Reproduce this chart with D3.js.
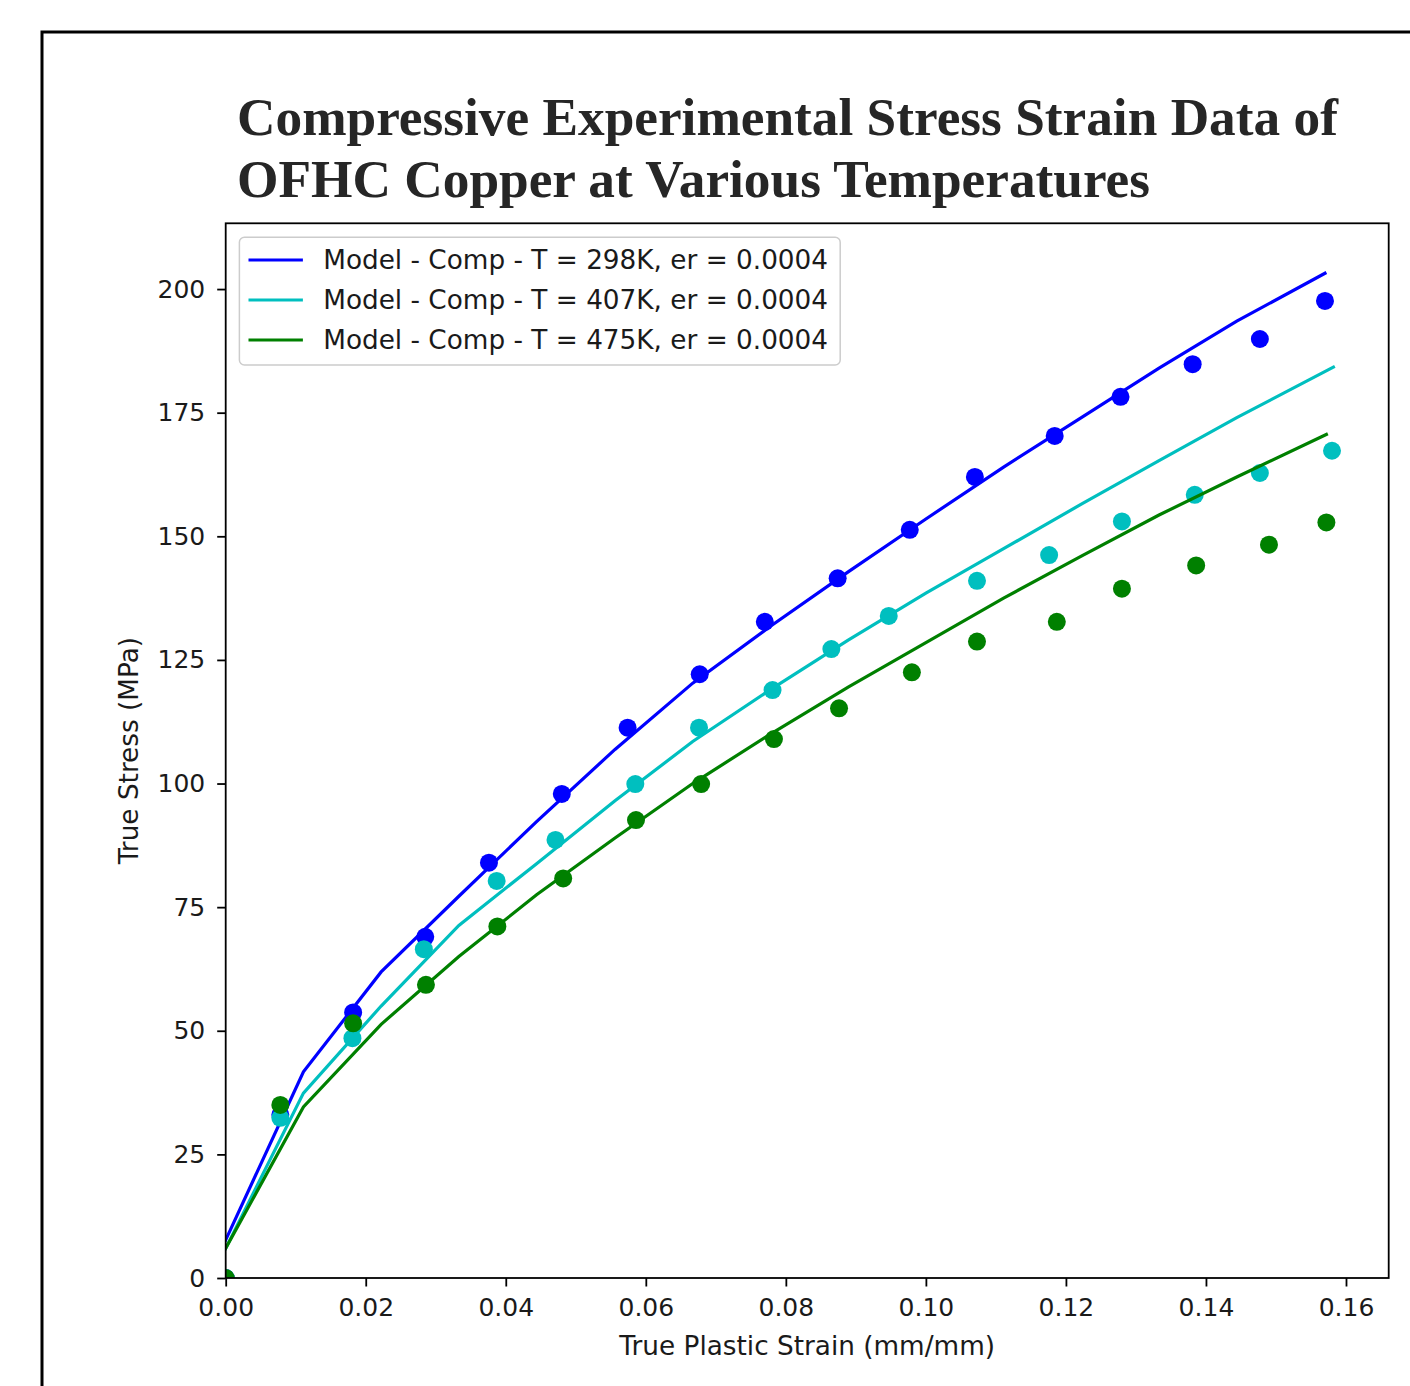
<!DOCTYPE html>
<html>
<head>
<meta charset="utf-8">
<script src="https://cdn.jsdelivr.net/npm/d3@7"></script>
<style>
  body { margin: 0; background: #fff; }
</style>
</head>
<body>
<div id="chart"></div>
<script>
// experimental points (strain, stress)
const strain298 = [0, 0.0078, 0.0182, 0.0285, 0.0376, 0.0480, 0.0574, 0.0677, 0.0770, 0.0874, 0.0977, 0.1070, 0.1184, 0.1278, 0.1381, 0.1477, 0.1570];
const stress298 = [0, 33.0, 53.7, 69.0, 84.0, 97.9, 111.3, 122.1, 132.7, 141.5, 151.3, 162.0, 170.3, 178.2, 184.8, 189.9, 197.6];
const strain407 = [0, 0.0078, 0.0181, 0.0283, 0.0387, 0.0471, 0.0585, 0.0676, 0.0781, 0.0865, 0.0947, 0.1073, 0.1176, 0.1280, 0.1384, 0.1477, 0.1580];
const stress407 = [0, 32.4, 48.5, 66.5, 80.3, 88.6, 99.9, 111.3, 118.9, 127.2, 133.9, 141.0, 146.2, 153.0, 158.4, 162.8, 167.3];
const strain475 = [0, 0.0078, 0.0182, 0.0286, 0.0388, 0.0482, 0.0586, 0.0679, 0.0783, 0.0876, 0.0980, 0.1073, 0.1187, 0.1280, 0.1386, 0.1490, 0.1572];
const stress475 = [0, 35.0, 51.5, 59.3, 71.1, 80.8, 92.6, 99.9, 109.0, 115.2, 122.5, 128.7, 132.7, 139.4, 144.1, 148.3, 152.8];

// model curves
const modelStrain298 = [0, 0.0111, 0.0222, 0.0333, 0.0444, 0.0556, 0.0667, 0.0778, 0.0889, 0.1000, 0.1111, 0.1222, 0.1333, 0.1444, 0.1570];
const modelStress298 = [7.7, 41.7, 61.9, 77.2, 92.3, 106.9, 120.3, 131.8, 142.8, 153.5, 164.0, 174.0, 184.0, 193.5, 203.2];
const modelStrain407 = [0, 0.0111, 0.0222, 0.0333, 0.0444, 0.0556, 0.0667, 0.0778, 0.0889, 0.1000, 0.1111, 0.1222, 0.1333, 0.1444, 0.1582];
const modelStress407 = [6.0, 37.4, 55.0, 71.3, 83.8, 96.5, 108.5, 119.0, 129.0, 138.5, 147.5, 156.5, 165.3, 174.0, 184.2];
const modelStrain475 = [0, 0.0111, 0.0222, 0.0333, 0.0444, 0.0556, 0.0667, 0.0778, 0.0889, 0.1000, 0.1111, 0.1222, 0.1333, 0.1444, 0.1572];
const modelStress475 = [6.0, 34.6, 51.3, 65.0, 77.5, 89.0, 100.0, 110.0, 119.5, 128.5, 137.5, 146.0, 154.3, 162.0, 170.6];

const seriesLabels = ['Model - Comp - T = 298K, er = 0.0004', 'Model - Comp - T = 407K, er = 0.0004', 'Model - Comp - T = 475K, er = 0.0004'];
const seriesColors = ['#0000ff', '#00bfbf', '#008000'];
const xTicks = [0, 0.02, 0.04, 0.06, 0.08, 0.10, 0.12, 0.14, 0.16];
const yTicks = [0, 25, 50, 75, 100, 125, 150, 175, 200];
const titleLines = ['Compressive Experimental Stress Strain Data of', 'OFHC Copper at Various Temperatures'];

const series = [
  { model: [modelStrain298, modelStress298], exp: [strain298, stress298] },
  { model: [modelStrain407, modelStress407], exp: [strain407, stress407] },
  { model: [modelStrain475, modelStress475], exp: [strain475, stress475] }
].map((s, i) => ({
  label: seriesLabels[i],
  color: seriesColors[i],
  line: s.model[0].map((x, j) => ({ x: x, y: s.model[1][j] })),
  points: s.exp[0].map((x, j) => ({ x: x, y: s.exp[1][j] }))
}));

const w = 1410;
const h = 1386;
const margin = { top: 223.3, right: 21.3, bottom: 108, left: 225.7 };
const innerWidth = w - margin.left - margin.right;
const innerHeight = h - margin.top - margin.bottom;

const svg = d3.select('#chart')
  .append('svg')
  .attr('width', w)
  .attr('height', h)
  .style('display', 'block');

svg.append('rect').attr('width', w).attr('height', h).attr('fill', '#fff');

// outer frame, only its top and left edges fall on the page
svg.append('path')
  .attr('d', 'M42,' + h + 'V32H' + w)
  .attr('fill', 'none')
  .attr('stroke', '#000')
  .attr('stroke-width', 3);

svg.selectAll('.title')
  .data(titleLines)
  .enter()
  .append('text')
  .attr('class', 'title')
  .attr('x', 237)
  .attr('y', (d, i) => 135 + i * 62)
  .attr('font-family', '"Liberation Serif", "Times New Roman", serif')
  .attr('font-weight', 'bold')
  .attr('font-size', 53.3)
  .attr('fill', '#262626')
  .text(d => d);

const xScale = d3.scaleLinear()
  .domain([0, 0.1661])
  .range([0, innerWidth]);

const yScale = d3.scaleLinear()
  .domain([0, 213.3])
  .range([innerHeight, 0]);

const g = svg.append('g')
  .attr('transform', 'translate(' + margin.left + ',' + margin.top + ')');

const xAxis = d3.axisBottom(xScale).tickValues(xTicks).tickFormat(d3.format('.2f')).tickSize(8.5).tickPadding(12);
const yAxis = d3.axisLeft(yScale).tickValues(yTicks).tickFormat(d3.format('d')).tickSize(8.5).tickPadding(12);

g.append('clipPath').attr('id', 'plotclip')
  .append('rect').attr('width', innerWidth).attr('height', innerHeight);

const plot = g.append('g').attr('clip-path', 'url(#plotclip)');

const line = d3.line()
  .x(d => xScale(d.x))
  .y(d => yScale(d.y));

series.forEach(s => {
  plot.append('path')
    .datum(s.line)
    .attr('d', line)
    .attr('fill', 'none')
    .attr('stroke', s.color)
    .attr('stroke-width', 3.2)
    .attr('stroke-linecap', 'square');

  plot.selectAll(null)
    .data(s.points)
    .enter()
    .append('circle')
    .attr('cx', d => xScale(d.x))
    .attr('cy', d => yScale(d.y))
    .attr('r', 9)
    .attr('fill', s.color);
});

// frame of the axes
g.append('rect')
  .attr('width', innerWidth)
  .attr('height', innerHeight)
  .attr('fill', 'none')
  .attr('stroke', '#000')
  .attr('stroke-width', 1.8);

const gx = g.append('g')
  .attr('transform', 'translate(0,' + innerHeight + ')')
  .call(xAxis);
const gy = g.append('g').call(yAxis);

[gx, gy].forEach(a => {
  a.select('.domain').remove();
  a.selectAll('line').attr('stroke', '#000').attr('stroke-width', 1.8);
  a.selectAll('text')
    .attr('font-family', '"DejaVu Sans", sans-serif')
    .attr('font-size', 25)
    .attr('fill', '#1a1a1a');
});

g.append('text')
  .attr('x', innerWidth / 2)
  .attr('y', 1355 - margin.top)
  .attr('text-anchor', 'middle')
  .attr('font-family', '"DejaVu Sans", sans-serif')
  .attr('font-size', 26.3)
  .attr('fill', '#1a1a1a')
  .text('True Plastic Strain (mm/mm)');

g.append('text')
  .attr('transform', 'translate(' + (137.5 - margin.left) + ',' + innerHeight / 2 + ') rotate(-90)')
  .attr('text-anchor', 'middle')
  .attr('font-family', '"DejaVu Sans", sans-serif')
  .attr('font-size', 26.3)
  .attr('fill', '#1a1a1a')
  .text('True Stress (MPa)');

// legend
const legend = g.append('g')
  .attr('transform', 'translate(' + (239.4 - margin.left) + ',' + (237.3 - margin.top) + ')');

legend.append('rect')
  .attr('width', 600.8)
  .attr('height', 127.7)
  .attr('rx', 5)
  .attr('fill', '#fff')
  .attr('fill-opacity', 0.8)
  .attr('stroke', '#cccccc')
  .attr('stroke-width', 1.5);

const items = legend.selectAll('.item')
  .data(series)
  .enter()
  .append('g')
  .attr('transform', (d, i) => 'translate(0,' + (22.7 + i * 40) + ')');

items.append('line')
  .attr('x1', 9.1).attr('x2', 63.5)
  .attr('stroke', d => d.color)
  .attr('stroke-width', 3.2);

items.append('text')
  .attr('x', 83.8)
  .attr('dy', '0.36em')
  .attr('font-family', '"DejaVu Sans", sans-serif')
  .attr('font-size', 26.3)
  .attr('fill', '#1a1a1a')
  .text(d => d.label);
</script>
</body>
</html>
